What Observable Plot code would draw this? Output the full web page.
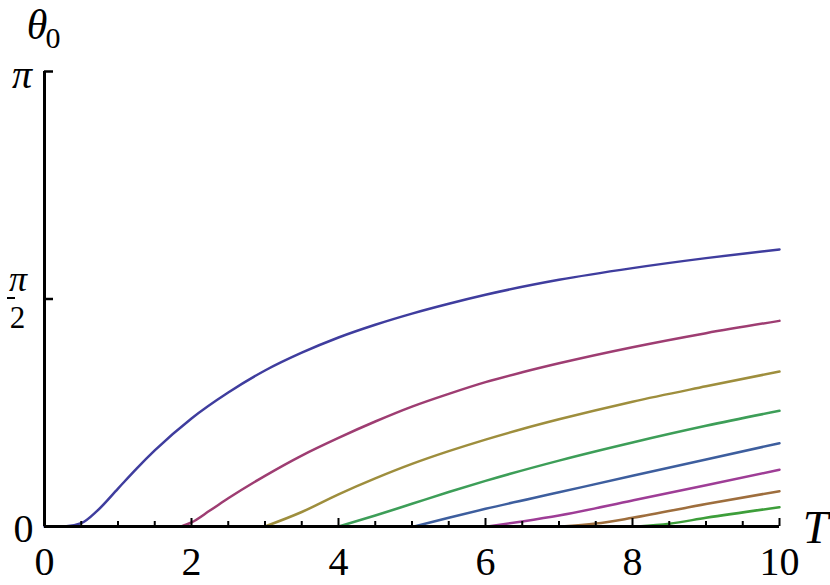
<!DOCTYPE html>
<html><head><meta charset="utf-8">
<script src="https://cdn.jsdelivr.net/npm/d3@7"></script>
<script src="https://cdn.jsdelivr.net/npm/@observablehq/plot@0.6"></script>
<style>body{margin:0;background:#fff}</style>
</head><body><div id="chart"></div>
<script>
const PI = Math.PI;
// series data (T, theta0)
const t1 = [0, 0.27, 0.5, 0.72, 1.0, 1.25, 1.5, 2.0, 2.5, 3.0, 3.5, 4.0, 4.5, 5.0, 5.5, 6.0, 7.0, 8.0, 9.0, 10];
const y1 = [0, 0, 0.023, 0.11, 0.262, 0.398, 0.525, 0.746, 0.925, 1.077, 1.2, 1.305, 1.393, 1.47, 1.538, 1.6, 1.703, 1.784, 1.853, 1.913];
const t2 = [1.86, 2.0, 2.25, 2.5, 3.0, 3.5, 4.0, 4.5, 5.0, 5.5, 6.0, 6.5, 7.0, 8.0, 9.0, 10];
const y2 = [0, 0.028, 0.11, 0.195, 0.35, 0.49, 0.612, 0.725, 0.828, 0.916, 0.997, 1.065, 1.127, 1.238, 1.335, 1.42];
const t3 = [3.0, 3.5, 4.0, 4.5, 5.0, 5.5, 6.0, 6.5, 7.0, 8.0, 9.0, 10];
const y3 = [0, 0.1, 0.222, 0.332, 0.432, 0.52, 0.6, 0.673, 0.74, 0.862, 0.968, 1.07];
const t4 = [4.0, 4.5, 5.0, 5.5, 6.0, 7.0, 8.0, 9.0, 10];
const y4 = [0, 0.076, 0.157, 0.238, 0.315, 0.455, 0.58, 0.695, 0.799];
const t5 = [5.03, 5.5, 6.0, 7.0, 8.0, 9.0, 10];
const y5 = [0, 0.06, 0.122, 0.236, 0.35, 0.463, 0.575];
const t6 = [6.03, 6.5, 7.0, 8.0, 9.0, 10];
const y6 = [0, 0.035, 0.076, 0.18, 0.285, 0.392];
const t7 = [7.03, 7.5, 8.0, 9.0, 10];
const y7 = [0, 0.02, 0.06, 0.155, 0.244];
const t8 = [8.07, 8.5, 9.0, 10];
const y8 = [0, 0.019, 0.06, 0.133];
const seriesT = [t1, t2, t3, t4, t5, t6, t7, t8];
const seriesY = [y1, y2, y3, y4, y5, y6, y7, y8];
const colors = ["#3f3d9e", "#9e3d72", "#9e8e3d", "#3d9e58", "#3d5e9e", "#9e3d96", "#9e6e3d", "#3d9e3a"];

const xMajorTicks = [0, 2, 4, 6, 8, 10];
const xMinorTicks = [0.5, 1, 1.5, 2.5, 3, 3.5, 4.5, 5, 5.5, 6.5, 7, 7.5, 8.5, 9, 9.5];
const xTickLabels = ["0", "2", "4", "6", "8", "10"];
const yTicks = [PI / 2, PI];

const rows = [];
seriesT.forEach((ts, i) => ts.forEach((t, j) => rows.push({series: i, T: t, theta: seriesY[i][j]})));

const W = 830, H = 585, mL = 44, mR = 51, mT = 71, mB = 59;
const fw = W - mL - mR, fh = H - mT - mB;
const serifFont = "Liberation Serif";
const txt = {fontFamily: serifFont, fill: "#000", lineAnchor: "middle", textAnchor: "middle"};

const chart = Plot.plot({
  width: W, height: H,
  marginLeft: mL, marginRight: mR, marginTop: mT, marginBottom: mB,
  x: {domain: [0, 10], axis: null},
  y: {domain: [0, PI], axis: null},
  color: {domain: d3.range(8), range: colors},
  style: {fontFamily: serifFont, background: "#fff"},
  marks: [
    Plot.line(rows, {x: "T", y: "theta", z: "series", stroke: "series", strokeWidth: 2.5, curve: "monotone-x"}),
    Plot.ruleY([0], {x1: 0, x2: 10, strokeWidth: 3, stroke: "#000"}),
    Plot.ruleX([0], {y1: 0, y2: PI, strokeWidth: 3, stroke: "#000"}),
    Plot.tickX(xMajorTicks.slice(1), {x: d => d, insetTop: fh - 8, strokeWidth: 2, stroke: "#000"}),
    Plot.tickX(xMinorTicks, {x: d => d, insetTop: fh - 5, strokeWidth: 2, stroke: "#000"}),
    Plot.tickY(yTicks, {y: d => d, insetRight: fw - 9, strokeWidth: 2.5, stroke: "#000"}),
    // short fraction bar of the pi/2 label
    Plot.tickY([PI / 2], {y: d => d, insetLeft: -37, insetRight: fw + 29, dy: -1, strokeWidth: 2, stroke: "#000"}),
    Plot.text(xMajorTicks, {...txt, x: d => d, y: () => 0, text: (d, i) => xTickLabels[i], dy: 36, fontSize: 40}),
    Plot.text([0], {...txt, x: () => 0, y: () => 0, text: () => "0", dx: -21, dy: 3, fontSize: 40}),
    Plot.text([PI], {...txt, x: () => 0, y: d => d, text: () => "π", dx: -22.5, dy: 3.5, fontSize: 40, fontStyle: "italic"}),
    Plot.text([PI / 2], {...txt, x: () => 0, y: d => d, text: () => "π", dx: -26.5, dy: -20, fontSize: 36, fontStyle: "italic"}),
    Plot.text([PI / 2], {...txt, x: () => 0, y: d => d, text: () => "2", dx: -27, dy: 19, fontSize: 31}),
    Plot.text(["θ"], {...txt, frameAnchor: "top-left", text: d => d, dx: -7.5, dy: -46, fontSize: 42, fontStyle: "italic"}),
    Plot.text(["0"], {...txt, frameAnchor: "top-left", text: d => d, dx: 8.5, dy: -33.5, fontSize: 30}),
    Plot.text(["T"], {...txt, frameAnchor: "bottom-right", text: d => d, dx: 36, dy: 1.5, fontSize: 46, fontStyle: "italic"})
  ]
});
document.getElementById("chart").appendChild(chart);
</script>
</body></html>
